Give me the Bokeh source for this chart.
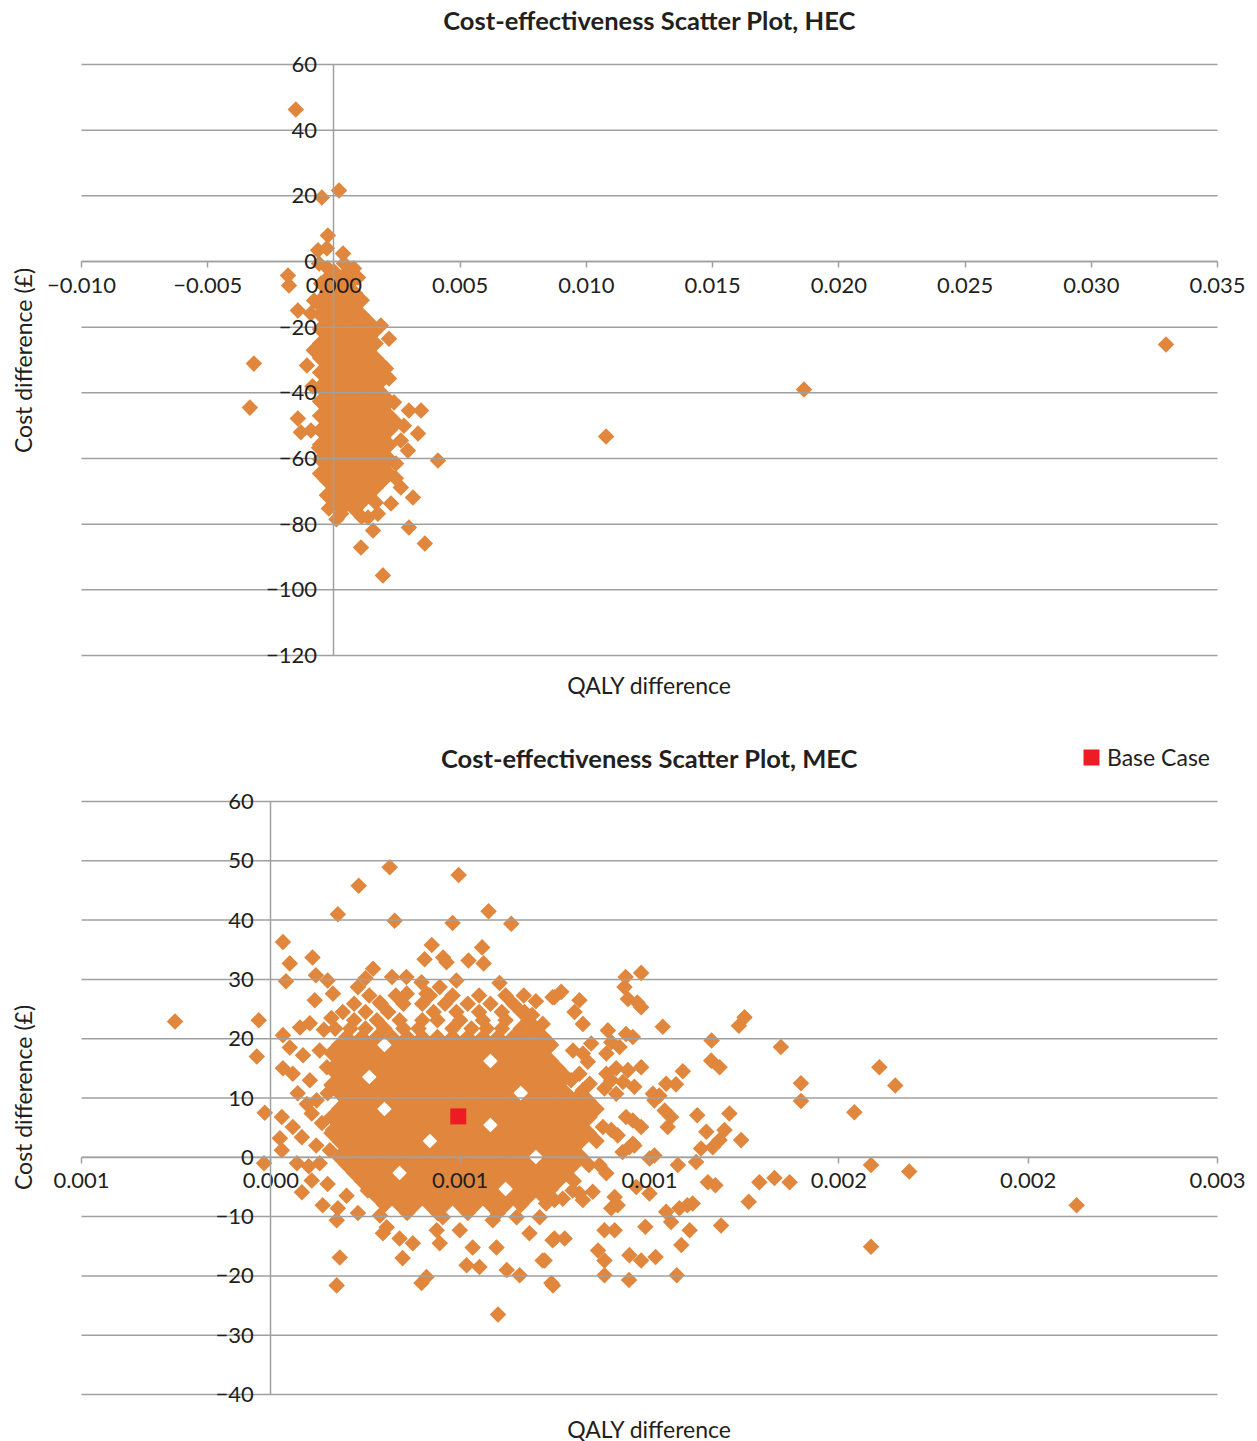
import math
from bokeh.plotting import figure
from bokeh.models import (ColumnDataSource, FixedTicker, Legend, LegendItem,
                          CustomJSTickFormatter, Label, Range1d)
from bokeh.layouts import column
from bokeh.embed import file_html
from bokeh.resources import INLINE

FONT = "Lato"
TEXT = "#231F20"
ORANGE = "#E0873D"
RED = "#ED1C24"
GRID = "#A0A0A0"

# ---------------- texts ----------------
hec_title = "Cost-effectiveness Scatter Plot, HEC"
mec_title = "Cost-effectiveness Scatter Plot, MEC"
x_title = "QALY difference"
y_title = "Cost difference (£)"
legend_label = "Base Case"

# ---------------- ticks ----------------
hec_x_ticks = [-0.010, -0.005, 0.0, 0.005, 0.010, 0.015, 0.020, 0.025, 0.030, 0.035]
hec_x_labels = ["\u22120.010", "\u22120.005", "0.000", "0.005", "0.010", "0.015", "0.020", "0.025", "0.030", "0.035"]
hec_y_ticks = [-120, -100, -80, -60, -40, -20, 0, 20, 40, 60]
hec_y_labels = ["\u2212120", "\u2212100", "\u221280", "\u221260", "\u221240", "\u221220", "0", "20", "40", "60"]

mec_x_ticks = [-0.0005, 0.0, 0.0005, 0.001, 0.0015, 0.002, 0.0025]
mec_x_labels = ["0.001", "0.000", "0.001", "0.001", "0.002", "0.002", "0.003"]
mec_y_ticks = [-40, -30, -20, -10, 0, 10, 20, 30, 40, 50, 60]
mec_y_labels = ["\u221240", "\u221230", "\u221220", "\u221210", "0", "10", "20", "30", "40", "50", "60"]

# ---------------- data: QALY difference in units of 1e-3, cost difference in GBP ----------------
hec_outer = [
    (-1.51, 46.3), (-0.48, 19.5), (0.20, 21.6), (-0.24, 7.9), (-0.28, 4.0), (0.36, 2.4),
    (-1.82, -4.3), (-1.78, -7.3), (-1.43, -14.9), (-3.17, -31.1), (-3.33, -44.5), (-1.07, -31.7),
    (-1.43, -47.8), (-1.31, -52.0), (-0.91, -51.5), (-0.59, -56.7), (-0.20, -75.2), (0.28, -76.8),
    (1.07, -87.1), (1.94, -95.6), (1.55, -81.9), (1.35, -78.0), (2.97, -81.0), (3.60, -85.9),
    (3.13, -71.9), (2.65, -68.8), (2.26, -73.7), (1.74, -76.8), (4.12, -60.6), (3.45, -45.4),
    (2.97, -45.4), (3.33, -52.4), (2.93, -57.6), (2.46, -61.5), (2.65, -54.5), (2.77, -50.0),
    (2.38, -42.9), (2.18, -35.6), (2.06, -32.6), (2.18, -23.5), (1.86, -19.5), (1.58, -21.6),
    (-0.63, -12.8), (-0.79, -11.9), (-0.91, -15.8), (-0.51, -6.7), (-0.24, -2.1), (0.79, -2.1),
    (0.95, -4.9), (0.00, -3.7), (0.40, -0.6), (-0.63, 3.4), (-0.59, -0.6), (-0.80, -27.0),
    (-0.85, -38.0), (2.45, -66.0), (0.10, -78.5),
    (10.78, -53.3), (18.62, -39.0), (32.96, -25.3),
]
# dense part of the HEC cloud, one row per cost level: (cost, [QALY x 1e-3, ...])
hec_cloud_rows = [
    (-3.0, [0.0, 0.55]),
    (-5.2, [-0.28, 0.28, 0.83]),
    (-7.4, [0.0, 0.55]),
    (-9.6, [-0.28, 0.28, 0.83]),
    (-11.8, [-0.55, 0.0, 0.55, 1.10]),
    (-14.0, [-0.28, 0.28, 0.83]),
    (-16.2, [-0.55, 0.0, 0.55, 1.10]),
    (-18.4, [-0.28, 0.28, 0.83, 1.38]),
    (-20.6, [-0.55, 0.0, 0.55, 1.10]),
    (-22.8, [-0.28, 0.28, 0.83, 1.38]),
    (-25.0, [-0.55, 0.0, 0.55, 1.10, 1.65]),
    (-27.2, [-0.28, 0.28, 0.83, 1.38]),
    (-29.4, [-0.55, 0.0, 0.55, 1.10, 1.65]),
    (-31.6, [-0.28, 0.28, 0.83, 1.38, 1.93]),
    (-33.8, [-0.55, 0.0, 0.55, 1.10, 1.65]),
    (-36.0, [-0.28, 0.28, 0.83, 1.38, 1.93]),
    (-38.2, [-0.55, 0.0, 0.55, 1.10, 1.65]),
    (-40.4, [-0.28, 0.28, 0.83, 1.38, 1.93]),
    (-42.6, [-0.55, 0.0, 0.55, 1.10, 1.65, 2.20]),
    (-44.8, [-0.28, 0.28, 0.83, 1.38, 1.93]),
    (-47.0, [-0.55, 0.0, 0.55, 1.10, 1.65, 2.20]),
    (-49.2, [-0.28, 0.28, 0.83, 1.38, 1.93, 2.48]),
    (-51.4, [-0.55, 0.0, 0.55, 1.10, 1.65, 2.20]),
    (-53.6, [-0.28, 0.28, 0.83, 1.38, 1.93]),
    (-55.8, [-0.55, 0.0, 0.55, 1.10, 1.65, 2.20]),
    (-58.0, [-0.28, 0.28, 0.83, 1.38, 1.93]),
    (-60.2, [-0.55, 0.0, 0.55, 1.10, 1.65, 2.20]),
    (-62.4, [-0.28, 0.28, 0.83, 1.38, 1.93]),
    (-64.6, [-0.55, 0.0, 0.55, 1.10, 1.65, 2.20]),
    (-66.8, [-0.28, 0.28, 0.83, 1.38, 1.93]),
    (-69.0, [0.0, 0.55, 1.10, 1.65]),
    (-71.2, [-0.28, 0.28, 0.83, 1.38]),
    (-73.4, [0.0, 0.55, 1.10, 1.65]),
    (-75.6, [0.28, 0.83]),
    (-77.8, [1.10]),
]

mec_outer = [
    (-0.253, 22.9), (-0.032, 23.1), (-0.037, 17.0), (-0.016, 7.5), (-0.018, -1.0),
    (0.032, 36.3), (0.050, 32.7), (0.040, 29.7), (0.177, 41.0), (0.232, 45.8), (0.314, 48.9),
    (0.327, 39.9), (0.496, 47.6), (0.480, 39.5), (0.575, 41.5), (0.635, 39.4),
    (0.110, 33.7), (0.119, 30.7), (0.150, 29.8), (0.270, 31.8), (0.320, 30.4), (0.358, 30.4),
    (0.425, 35.8), (0.406, 33.4), (0.455, 33.7), (0.464, 32.9), (0.522, 33.2), (0.558, 35.4),
    (0.562, 32.7), (0.398, 29.5), (0.490, 29.8), (0.446, 28.7), (0.604, 29.4), (0.668, 27.3),
    (0.744, 27.0), (0.230, 28.7), (0.250, 30.2), (0.116, 26.5), (0.164, 27.6), (0.288, 26.1),
    (0.359, 27.6), (0.411, 27.6), (0.077, 21.9), (0.103, 22.6), (0.700, 26.3), (0.660, 24.6),
    (0.690, 24.0), (0.140, 21.5), (0.160, 23.5),
    (0.032, 20.6), (0.050, 18.5), (0.032, 15.0), (0.058, 14.1), (0.029, 6.8), (0.058, 5.1),
    (0.024, 3.2), (0.029, 1.2), (0.071, 10.8), (0.108, 7.4), (0.082, 3.4), (0.069, -1.0),
    (0.108, -3.9), (0.082, -5.9), (0.137, -8.1), (0.174, -10.6), (0.177, -8.6), (0.182, -16.9),
    (0.174, -21.6), (0.129, -1.0), (0.103, 13.0), (0.121, 9.6), (0.148, 15.2), (0.129, 18.0),
    (0.150, 10.8), (0.164, 4.6), (0.156, 1.2), (0.085, 17.2), (0.095, 9.0), (0.135, 5.8),
    (0.120, 2.0), (0.100, -1.5), (0.150, -4.5), (0.200, -6.5),
    (0.296, -12.8), (0.348, -17.0), (0.411, -20.2), (0.398, -21.2), (0.340, -13.7),
    (0.375, -14.5), (0.454, -10.1), (0.438, -12.3), (0.499, -12.3), (0.533, -15.2),
    (0.551, -18.5), (0.517, -18.2), (0.596, -15.2), (0.623, -19.0), (0.657, -19.9),
    (0.683, -12.8), (0.718, -17.4), (0.741, -21.2), (0.586, -10.6), (0.649, -10.1),
    (0.710, -10.1), (0.744, -14.0), (0.446, -14.5), (0.230, -9.4), (0.256, -5.6),
    (0.288, -9.8), (0.306, -11.8), (0.600, -26.5),
    (0.978, 31.1), (0.937, 30.4), (0.934, 28.7), (0.943, 26.7), (0.978, 25.3), (0.968, 26.1),
    (1.035, 22.0), (1.251, 23.6), (1.236, 22.2), (1.164, 19.7), (1.347, 18.6), (1.163, 16.3),
    (1.185, 15.2), (1.400, 12.5), (1.400, 9.5), (1.541, 7.6), (1.088, 14.5), (1.070, 12.3),
    (1.044, 12.4), (1.126, 7.1), (1.211, 7.4), (1.198, 4.6), (1.185, 2.9), (1.150, 4.3),
    (1.242, 2.9), (1.136, 1.5), (1.167, 1.7), (1.123, -0.8), (1.075, -1.3), (1.154, -4.2),
    (1.174, -4.7), (1.290, -4.2), (1.330, -3.5), (1.370, -4.2), (1.262, -7.5), (1.189, -11.5),
    (1.106, -12.3), (1.084, -14.8), (1.072, -19.9), (1.057, -10.9), (1.044, -9.2),
    (1.079, -8.6), (1.100, -8.1), (1.114, -7.8), (0.989, -11.7), (1.016, -16.8),
    (0.978, -17.4), (0.947, -16.5), (0.946, -20.7), (0.881, -19.9), (0.881, -17.4),
    (0.864, -15.7), (0.908, -12.3), (0.881, -12.3), (0.745, -21.6), (0.723, -17.4),
    (0.749, -13.7), (0.776, -13.7), (0.908, -6.7), (0.916, -8.1), (0.899, -8.6), (1.000, -6.1),
    (0.965, -5.0), (1.013, 0.3), (1.000, -0.2), (0.947, 1.7), (0.960, 2.0), (0.929, 0.9),
    (0.886, -2.7), (0.868, -1.3), (0.850, -5.8), (0.815, -6.1), (0.824, -7.2), (0.797, -5.6),
    (0.771, -7.0), (0.749, -7.2), (0.727, -7.8), (0.956, 6.2), (0.938, 6.8), (0.978, 5.1),
    (0.956, 2.3), (1.048, 5.1), (1.057, 6.8), (1.040, 7.9), (1.013, 9.6), (1.009, 10.7),
    (1.026, 10.4), (0.899, 4.6), (0.916, 3.7), (0.877, 5.1), (0.842, 6.8), (0.886, 14.1),
    (0.899, 13.0), (0.881, 11.6), (0.930, 12.7), (0.943, 14.7), (0.960, 11.9), (0.978, 15.2),
    (0.938, 20.8), (0.956, 20.3), (0.890, 21.4), (0.899, 19.4), (0.921, 18.6), (0.886, 17.5),
    (0.824, 22.5), (0.802, 24.5), (0.815, 26.5), (0.767, 27.9), (0.749, 27.0), (0.718, 22.5),
    (0.846, 19.2), (0.824, 17.5), (0.798, 18.0), (0.736, 19.2), (0.837, 16.1), (0.815, 14.1),
    (0.793, 13.0), (0.824, 11.3), (0.763, 13.5), (0.736, 15.2), (0.842, 12.4), (0.912, 15.0),
    (0.912, 10.7),
    (1.607, 15.2), (1.649, 12.1), (1.585, -1.3), (1.686, -2.4), (2.128, -8.1), (1.585, -15.1),
]
# dense part of the MEC cloud, one row per cost level: (cost, [QALY x 1e-3, ...])
mec_cloud_rows = [
    (27.3, [0.26, 0.33, 0.42, 0.48, 0.55, 0.62]),
    (25.9, [0.22, 0.29, 0.35, 0.40, 0.46, 0.52, 0.58, 0.64]),
    (24.5, [0.19, 0.25, 0.31, 0.43, 0.49, 0.55, 0.61, 0.67]),
    (23.1, [0.22, 0.28, 0.34, 0.40, 0.44, 0.50, 0.56, 0.62, 0.68]),
    (21.7, [0.17, 0.21, 0.25, 0.30, 0.35, 0.39, 0.48, 0.53, 0.57, 0.61, 0.66, 0.70]),
    (20.3, [0.20, 0.24, 0.28, 0.32, 0.36, 0.40, 0.44, 0.48, 0.52, 0.56, 0.60, 0.64, 0.68, 0.72]),
    (18.95, [0.18, 0.22, 0.26, 0.34, 0.38, 0.42, 0.46, 0.50, 0.54, 0.58, 0.62, 0.66, 0.70, 0.74]),
    (17.6, [0.16, 0.20, 0.24, 0.28, 0.32, 0.36, 0.40, 0.44, 0.48, 0.52, 0.56, 0.60, 0.64, 0.68, 0.72]),
    (16.25, [0.18, 0.22, 0.26, 0.30, 0.34, 0.38, 0.42, 0.46, 0.50, 0.54, 0.62, 0.66, 0.70, 0.74]),
    (14.9, [0.16, 0.20, 0.24, 0.28, 0.32, 0.36, 0.40, 0.44, 0.48, 0.52, 0.56, 0.60, 0.64, 0.68, 0.72, 0.76]),
    (13.55, [0.18, 0.22, 0.30, 0.34, 0.38, 0.42, 0.46, 0.50, 0.54, 0.58, 0.62, 0.66, 0.70, 0.74, 0.78]),
    (12.2, [0.16, 0.20, 0.24, 0.28, 0.32, 0.36, 0.40, 0.44, 0.48, 0.52, 0.56, 0.60, 0.64, 0.68, 0.72, 0.76]),
    (10.85, [0.18, 0.22, 0.26, 0.30, 0.34, 0.38, 0.42, 0.46, 0.50, 0.54, 0.58, 0.62, 0.70, 0.74, 0.78, 0.82]),
    (9.5, [0.20, 0.24, 0.28, 0.32, 0.36, 0.40, 0.44, 0.48, 0.52, 0.56, 0.60, 0.64, 0.68, 0.72, 0.76, 0.80, 0.84]),
    (8.15, [0.18, 0.22, 0.26, 0.34, 0.38, 0.42, 0.46, 0.50, 0.54, 0.58, 0.62, 0.66, 0.70, 0.74, 0.78, 0.82, 0.86]),
    (6.8, [0.16, 0.20, 0.24, 0.28, 0.32, 0.36, 0.40, 0.44, 0.48, 0.52, 0.56, 0.60, 0.64, 0.68, 0.72, 0.76, 0.80, 0.84]),
    (5.45, [0.18, 0.22, 0.26, 0.30, 0.34, 0.38, 0.42, 0.46, 0.50, 0.54, 0.62, 0.66, 0.70, 0.74, 0.78, 0.82]),
    (4.1, [0.16, 0.20, 0.24, 0.28, 0.32, 0.36, 0.40, 0.44, 0.48, 0.52, 0.56, 0.60, 0.64, 0.68, 0.72, 0.76, 0.80, 0.84]),
    (2.75, [0.18, 0.22, 0.26, 0.30, 0.34, 0.38, 0.46, 0.50, 0.54, 0.58, 0.62, 0.66, 0.70, 0.74, 0.78, 0.82, 0.86]),
    (1.4, [0.20, 0.24, 0.28, 0.32, 0.36, 0.40, 0.44, 0.48, 0.52, 0.56, 0.60, 0.64, 0.68, 0.72, 0.76, 0.80]),
    (0.05, [0.18, 0.22, 0.26, 0.30, 0.34, 0.38, 0.42, 0.46, 0.50, 0.54, 0.58, 0.62, 0.66, 0.74, 0.78, 0.82]),
    (-1.3, [0.20, 0.24, 0.28, 0.32, 0.36, 0.40, 0.44, 0.48, 0.52, 0.56, 0.60, 0.64, 0.68, 0.72, 0.76, 0.80, 0.84]),
    (-2.65, [0.22, 0.26, 0.30, 0.38, 0.42, 0.46, 0.50, 0.54, 0.58, 0.62, 0.66, 0.70, 0.74, 0.78]),
    (-4.0, [0.24, 0.28, 0.32, 0.36, 0.40, 0.44, 0.48, 0.52, 0.56, 0.60, 0.64, 0.68, 0.72, 0.76, 0.80]),
    (-5.35, [0.26, 0.30, 0.34, 0.38, 0.42, 0.46, 0.50, 0.54, 0.58, 0.66, 0.70, 0.74]),
    (-6.7, [0.28, 0.32, 0.36, 0.40, 0.44, 0.48, 0.52, 0.56, 0.60, 0.64, 0.68, 0.72]),
    (-8.05, [0.30, 0.34, 0.38, 0.42, 0.46, 0.50, 0.54, 0.58, 0.62, 0.66]),
    (-9.4, [0.36, 0.44, 0.52, 0.60]),
]
base_case_qaly_milli = [0.495]
base_case_cost = [6.9]

W = 1257


def rows_to_points(rows):
    return [(x, y) for y, xs in rows for x in xs]


def tick_fmt(ticks, labels):
    return CustomJSTickFormatter(args=dict(t=ticks, l=labels), code="""
        for (let i = 0; i < t.length; i++) { if (Math.abs(t[i] - tick) < 1e-9) return l[i]; }
        return "";
    """)


def build(title, pts, xt, xl, yt, yl, height, py_top, py_bottom, title_py, xlabel_py, ylabel_py):
    # layout: the plotting box fills the whole canvas; first/last x tick at px 81 / 1217,
    # first/last y tick at py_bottom / py_top (canvas pixels from top)
    px_left, px_right = 81, 1217
    dx = (xt[-1] - xt[0]) / (px_right - px_left)
    dy = (yt[-1] - yt[0]) / (py_bottom - py_top)

    def X(px):
        return xt[0] + (px - px_left) * dx

    def Y(py):
        return yt[-1] - (py - py_top) * dy

    p = figure(width=W, height=height, x_range=Range1d(X(0), X(W)), y_range=Range1d(Y(height), Y(0)),
               title=None, output_backend="svg", toolbar_location=None, min_border=0,
               outline_line_color=None)

    src = ColumnDataSource(dict(x=[a / 1000 for a, b in pts], y=[b for a, b in pts]))
    p.scatter("x", "y", source=src, marker="square", angle=math.pi / 4, size=11.7,
              fill_color=ORANGE, line_color=None, level="underlay")

    # horizontal grid lines drawn over the points, spanning the tick range only
    gsrc = ColumnDataSource(dict(x0=[xt[0]] * len(yt), x1=[xt[-1]] * len(yt), y=yt))
    p.segment(x0="x0", y0="y", x1="x1", y1="y", source=gsrc, line_color=GRID, line_width=1.5)

    xa = p.xaxis[0]
    xa.fixed_location = 0
    xa.bounds = (xt[0], xt[-1])
    xa.ticker = FixedTicker(ticks=xt)
    xa.formatter = tick_fmt(xt, xl)
    xa.axis_line_color = GRID
    xa.axis_line_width = 1.5
    xa.major_tick_line_color = GRID
    xa.major_tick_line_width = 1.5
    xa.major_tick_out = 6
    xa.major_tick_in = 0
    xa.minor_tick_out = 0
    xa.minor_tick_in = 0
    xa.major_label_standoff = 10
    xa.major_label_text_font = FONT
    xa.major_label_text_font_size = "22px"
    xa.major_label_text_color = TEXT

    ya = p.yaxis[0]
    ya.fixed_location = 0
    ya.bounds = (yt[0], yt[-1])
    ya.ticker = FixedTicker(ticks=yt)
    ya.formatter = tick_fmt(yt, yl)
    ya.axis_line_color = GRID
    ya.axis_line_width = 1.5
    ya.major_tick_out = 0
    ya.major_tick_in = 0
    ya.minor_tick_out = 0
    ya.minor_tick_in = 0
    ya.major_label_standoff = 17
    ya.major_label_text_font = FONT
    ya.major_label_text_font_size = "22px"
    ya.major_label_text_color = TEXT

    p.xgrid.visible = False
    p.ygrid.visible = False

    xmid = (xt[0] + xt[-1]) / 2
    p.add_layout(Label(x=xmid, y=Y(title_py), text=title, text_align="center",
                       text_baseline="middle", text_font=FONT, text_font_size="25.5px",
                       text_font_style="bold", text_color=TEXT))
    p.add_layout(Label(x=xmid, y=Y(xlabel_py), text=x_title, text_align="center",
                       text_baseline="middle", text_font=FONT, text_font_size="23px",
                       text_color=TEXT))
    p.add_layout(Label(x=X(22), y=Y(ylabel_py), text=y_title, text_align="center",
                       text_baseline="middle", angle=math.pi / 2, text_font=FONT,
                       text_font_size="23px", text_color=TEXT))
    return p


H1 = 720
H2 = 1441 - H1
p1 = build(hec_title, hec_outer + rows_to_points(hec_cloud_rows),
           hec_x_ticks, hec_x_labels, hec_y_ticks, hec_y_labels,
           height=H1, py_top=64, py_bottom=655, title_py=19, xlabel_py=684, ylabel_py=360)

p2 = build(mec_title, mec_outer + rows_to_points(mec_cloud_rows),
           mec_x_ticks, mec_x_labels, mec_y_ticks, mec_y_labels,
           height=H2, py_top=801 - H1, py_bottom=1394 - H1, title_py=757 - H1,
           xlabel_py=1428 - H1, ylabel_py=1097 - H1)

base_src = ColumnDataSource(dict(x=[v / 1000 for v in base_case_qaly_milli], y=base_case_cost))
base_r = p2.rect("x", "y", width=16, height=16, width_units="screen", height_units="screen",
                 source=base_src, fill_color=RED, line_color=None)
legend = Legend(items=[LegendItem(label=legend_label, renderers=[base_r])],
                location=(1081, H2 - (771 - H1)), glyph_width=20, glyph_height=20,
                label_standoff=6, padding=0, margin=0, spacing=0, border_line_color=None,
                background_fill_alpha=0, label_text_font=FONT, label_text_font_size="23px",
                label_text_color=TEXT)
p2.add_layout(legend, "center")

layout = column(p1, p2, spacing=0)
open("out.html", "w").write(file_html(layout, INLINE))
